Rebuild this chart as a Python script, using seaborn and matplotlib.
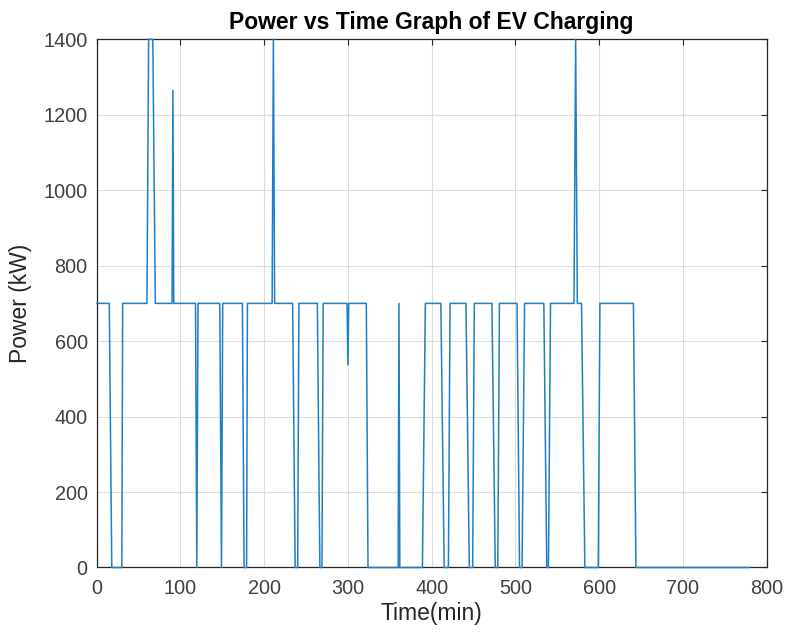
import matplotlib
matplotlib.use("Agg")
import matplotlib.pyplot as plt
import seaborn as sns
import pandas as pd

# Charging power profile: breakpoints of the piecewise session log
time_min = [0, 15, 18, 30, 31, 60, 62, 67, 70, 90, 91, 92,
            118, 119.5, 121, 147, 149, 150.5, 174, 176, 179, 180,
            209.5, 211, 212.5, 234, 237, 240, 241.5, 263.5, 266.5, 269, 270.5,
            299, 300, 301, 322, 324, 360, 361, 362, 389, 392.5,
            411, 415, 420, 422, 441, 445, 449, 451, 472, 476, 479, 481,
            502, 505, 508, 511, 534, 537.5, 539.5, 542,
            570, 572, 574, 579, 583, 599, 601, 641, 644, 780]
power_kw = [700, 700, 0, 0, 700, 700, 1400, 1400, 700, 700, 1265, 700,
            700, 0, 700, 700, 0, 700, 700, 0, 0, 700,
            700, 1400, 700, 700, 0, 0, 700, 700, 0, 0, 700,
            700, 537, 700, 700, 0, 0, 700, 0, 0, 700,
            700, 0, 0, 700, 700, 0, 0, 700, 700, 0, 0, 700,
            700, 0, 0, 700, 700, 0, 0, 700,
            700, 1400, 700, 700, 0, 0, 700, 700, 0, 0]

x_ticks = [0, 100, 200, 300, 400, 500, 600, 700, 800]
y_ticks = [0, 200, 400, 600, 800, 1000, 1200, 1400]

df = pd.DataFrame({"Time (min)": time_min, "Power (kW)": power_kw})

sns.set_theme(style="whitegrid")
plt.rcParams["font.family"] = ["Liberation Sans", "DejaVu Sans"]

fig = plt.figure(figsize=(7.85, 6.39), dpi=100)
ax = fig.add_axes([0.1232, 0.1119, 0.8533, 0.8266])

sns.lineplot(data=df, x="Time (min)", y="Power (kW)", ax=ax,
             color="#1f7fc4", linewidth=1.1, estimator=None, sort=False)
for ln in ax.get_lines():
    ln.set_clip_on(False)
    ln.set_zorder(3)

ax.set_xlim(0, 800)
ax.set_ylim(0, 1400)
ax.set_xticks(x_ticks)
ax.set_yticks(y_ticks)

ax.grid(True, color="#dcdcdc", linewidth=0.8)
ax.set_axisbelow(True)
ax.set_facecolor("white")
for s in ax.spines.values():
    s.set_color("#262626")
    s.set_linewidth(0.9)
    s.set_zorder(2.5)

ax.tick_params(axis="both", which="major", direction="in", length=4, width=0.8,
               top=True, right=True, color="#262626", labelcolor="#404040",
               labelsize=14.3)
ax.tick_params(axis="x", pad=8.5)
ax.tick_params(axis="y", pad=6.5)

ax.set_xlabel("Time(min)", fontsize=16.5, color="#262626", labelpad=3)
ax.set_ylabel("Power (kW)", fontsize=16.5, color="#262626", labelpad=8)
ax.set_title("Power vs Time Graph of EV Charging", fontsize=16.5,
             fontweight="bold", color="black", pad=7.5)

fig.savefig("out.png", dpi=100)
